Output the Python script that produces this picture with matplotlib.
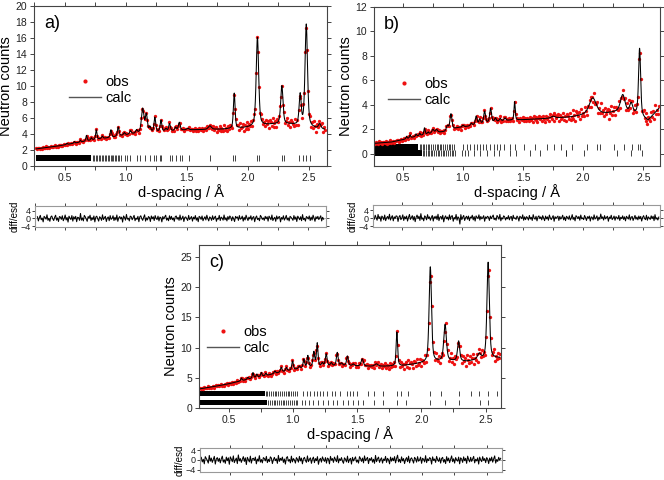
import numpy as np
import matplotlib.pyplot as plt
from matplotlib.lines import Line2D
from matplotlib.ticker import MultipleLocator

plt.rcParams['font.family'] = ['Liberation Sans', 'DejaVu Sans']

# ---- panel a) ----
a_bg_d = [0.25, 0.45, 0.6, 0.75, 0.9, 1.05, 1.3, 1.5, 1.8, 2.0, 2.2, 2.35, 2.55, 2.65]
a_bg_v = [2.1, 2.5, 2.9, 3.3, 3.6, 4.0, 4.3, 4.5, 4.6, 4.8, 5.2, 5.2, 4.7, 4.5]
a_pk_d = [0.52, 0.58, 0.63, 0.68, 0.72, 0.76, 0.81, 0.88, 0.94, 0.99, 1.04, 1.09, 1.14, 1.17,
          1.2, 1.24, 1.29, 1.33, 1.36, 1.41, 1.44, 1.51, 1.69, 1.89, 2.08, 2.28, 2.43, 2.48, 2.59]
a_pk_h = [0.15, 0.2, 0.25, 0.7, 0.3, 1.2, 0.3, 0.95, 1.15, 0.3, 0.4, 0.4, 3.0, 2.2,
          0.6, 1.8, 1.4, 0.3, 0.9, 0.4, 1.0, 0.2, 0.45, 4.4, 11.1, 4.8, 3.8, 12.8, 0.6]
a_pk_w = [0.005, 0.005, 0.005, 0.006, 0.006, 0.006, 0.007, 0.007, 0.008, 0.008, 0.008, 0.008, 0.012, 0.01,
          0.008, 0.008, 0.008, 0.008, 0.008, 0.008, 0.009, 0.01, 0.015, 0.008, 0.012, 0.011, 0.01, 0.012, 0.012]
a_esd_d = [0.25, 1.0, 1.6, 2.0, 2.65]
a_esd_v = [0.07, 0.1, 0.14, 0.35, 0.4]
a_band = [0.27, 0.72]
a_ticks = [0.73, 0.745, 0.755, 0.77, 0.78, 0.79, 0.805, 0.815, 0.83, 0.84, 0.855, 0.865, 0.88, 0.89,
           0.9, 0.915, 0.925, 0.94, 0.95, 0.965, 0.996, 1.01, 1.037, 1.09, 1.118, 1.159, 1.199,
           1.232, 1.253, 1.28, 1.294, 1.362, 1.384, 1.416, 1.449, 1.465, 1.52, 1.69, 1.88, 1.9,
           2.08, 2.09, 2.28, 2.3, 2.42, 2.45, 2.48, 2.51]
diff_a = [0.9,-1.3,0.4,1.6,-0.7,0.2,-1.8,1.1,0.5,-0.4,1.9,-1.0,0.1,-1.5,0.8,1.3,-0.2,-1.1,0.6,1.7,
          -0.9,0.3,-1.6,1.0,0.7,-0.5,1.4,-1.2,0.0,1.8,-0.8,0.5,-1.9,1.2,0.2,-0.6,1.5,-1.4,0.9,-0.3,
          1.1,-1.7,0.6,0.4,-1.0,2.6,-0.9,0.3,-1.3,1.6,0.8,-0.4,-1.5,1.0,0.1,1.7,-1.1,0.5,-0.7,1.3,
          -1.8,0.7,1.2,-0.2,-1.4,0.9,0.3,-1.0,1.9,-0.6,0.4,1.1,-1.6,0.2,0.8,-1.2,1.5,-0.5,0.0,1.4,
          -1.1,0.6,-0.8,1.8,-1.5,0.3,1.0,-0.3,0.7,-1.9,1.3,0.5,-0.9,2.1,-0.4,0.1,-1.3,1.2,0.9,-0.7,
          0.4,1.6,-1.2,0.2,-0.5,1.1,-1.7,0.8,1.4,-0.1,-1.0,0.6,1.9,-1.4,0.3,-0.8,1.0,0.5,-1.6,1.3,
          -0.2,0.9,-1.1,1.5,0.0,-0.6,1.2,-1.3,0.7,0.4,-1.8,1.0,-0.3,0.8,1.7,-0.9,0.2,-1.2,1.4,-0.5,
          1.1,-0.7,0.3,-1.5,0.9,1.3,-0.4,0.6,-1.0,1.8,-0.8,0.1,1.2,-1.6,0.5,0.8,-0.2,-1.1,1.6,-0.6,
          0.2,1.0,-1.4,0.7,-0.3,1.5,-0.9,0.4,-1.7,1.1,0.6,-0.5,1.3,-1.2,0.0,0.9,-0.8,1.7,-0.1,-1.3,
          0.8,0.3,-1.0,1.4,-0.6,0.5,1.2,-1.5,0.1,-0.4,1.6,-1.1,0.7,0.2,-0.9,1.8,-0.7,0.4,-1.3,1.0,
          -0.5,1.3,0.6,-1.2,0.9,-0.2,-1.6,1.1,0.3,0.8,-1.0,1.5,-0.4,0.0,1.2,-1.4,0.6,-0.8,1.7,0.2,
          -1.1,0.7,-0.3,1.4,-0.9,0.5,1.0,-1.7,0.4,1.3,-0.6,0.1,-1.2,1.6,0.8,-0.5,0.3,-1.0,1.1,-0.2,
          0.9,-1.4,1.2,0.4,-0.7,1.8,-1.1,0.0,0.6,-1.5,1.3,-0.3,0.7,1.0,-1.8,0.5,-0.4,1.4,-0.9,0.2,
          1.6,-0.8,0.3,-1.3,1.1,0.6,-0.1,-1.0,1.5,-0.5,0.8,-1.6,1.2,0.4,-0.7,0.9,-1.2,2.0,-0.6,0.1,
          -1.4,1.0,0.5,-0.3,1.3,-1.1,0.7,-0.8,1.7,0.2,-1.5,0.9,-0.2,1.1,-0.6,0.4,1.4,-1.3,0.6,-0.4]

# ---- panel b) ----
b_bg_d = [0.26, 0.4, 0.5, 0.6, 0.7, 0.8, 0.85, 0.95, 1.05, 1.2, 1.35, 1.5, 1.7, 1.9, 2.0,
          2.2, 2.3, 2.45, 2.54, 2.64]
b_bg_v = [0.85, 0.95, 1.15, 1.4, 1.6, 1.75, 1.8, 2.1, 2.25, 2.5, 2.72, 2.78, 2.88, 3.0, 3.15,
          3.3, 3.45, 3.2, 2.7, 3.8]
b_pk_d = [0.53, 0.56, 0.61, 0.64, 0.68, 0.71, 0.75, 0.78, 0.87, 0.9, 1.0, 1.07, 1.11, 1.14,
          1.18, 1.23, 1.27, 1.31, 1.35, 1.43, 1.75, 2.08, 2.33, 2.4, 2.47]
b_pk_h = [0.2, 0.25, 0.2, 0.2, 0.55, 0.15, 0.3, 0.25, 0.4, 1.3, 0.15, 0.2, 0.7, 0.4,
          1.0, 1.15, 0.3, 0.2, 0.2, 1.5, 0.15, 1.35, 1.4, 0.8, 5.5]
b_pk_w = [0.005, 0.005, 0.005, 0.005, 0.006, 0.006, 0.01, 0.01, 0.01, 0.01, 0.008, 0.008, 0.009, 0.008,
          0.009, 0.009, 0.008, 0.008, 0.008, 0.006, 0.02, 0.035, 0.022, 0.015, 0.01]
b_esd_d = [0.25, 1.0, 1.5, 2.0, 2.65]
b_esd_v = [0.07, 0.09, 0.14, 0.32, 0.35]
b_band1 = [0.27, 0.63]
b_ticks1 = [0.64, 0.655, 0.665, 0.68, 0.695, 0.71, 0.72, 0.735, 0.75, 0.765, 0.78, 0.79, 0.805,
            0.82, 0.835, 0.85, 0.865, 0.88, 0.895, 0.91, 0.925, 1.004, 1.032, 1.06, 1.093, 1.116,
            1.138, 1.166, 1.194, 1.221, 1.255, 1.283, 1.31, 1.338, 1.394, 1.43, 1.506, 1.603, 1.7,
            1.756, 1.812, 1.91, 2.03, 2.118, 2.14, 2.258, 2.341, 2.41, 2.453, 2.475]
b_band2 = [0.27, 0.66]
b_ticks2 = [0.67, 0.68, 0.695, 0.705, 0.72, 0.73, 0.745, 0.76, 0.775, 0.79, 0.8, 0.815, 0.83,
            0.845, 0.86, 0.875, 0.89, 0.905, 0.92, 0.93, 0.99, 1.018, 1.038, 1.088, 1.143, 1.199,
            1.255, 1.297, 1.394, 1.44, 1.561, 1.645, 1.854, 1.856, 2.007, 2.286, 2.397, 2.494]
diff_b = [-0.6,1.4,0.2,-1.1,1.8,-0.3,0.7,-1.6,1.0,0.4,-0.9,1.5,-1.3,0.1,0.8,-0.5,1.9,-1.0,0.3,1.2,
          -1.4,0.6,-0.2,1.1,0.9,-1.7,0.5,1.3,-0.8,0.0,1.6,-1.2,0.7,-0.4,1.0,-1.5,0.3,1.8,-0.7,0.2,
          1.2,-1.0,0.8,-1.8,0.4,1.5,-0.3,0.9,-1.2,2.2,-0.6,0.1,-1.4,1.1,0.5,-0.9,1.7,-0.2,0.6,-1.1,
          0.3,1.3,-1.5,0.7,-0.1,1.0,-0.8,1.9,-1.3,0.4,0.8,-0.6,1.4,-1.9,0.2,1.1,-0.4,0.5,-1.0,1.6,
          -0.7,0.9,1.2,-1.6,0.3,-0.5,1.8,-1.1,0.6,0.0,-3.0,1.7,-0.8,0.4,1.3,-1.2,0.2,0.9,-0.6,1.0,
          -1.3,0.5,0.1,1.4,-0.9,0.7,-1.5,1.1,0.3,-0.2,1.6,-1.0,0.8,-0.4,0.2,1.2,-1.6,0.6,-0.1,0.9,
          0.4,-1.2,1.0,-0.3,0.7,1.5,-0.8,0.0,-1.1,1.3,0.5,-0.6,1.8,-1.4,0.2,-0.5,1.1,0.6,-1.0,0.3,
          -0.4,1.2,-0.9,0.5,0.8,-1.3,1.4,-0.2,0.1,-0.7,1.0,0.3,-1.5,0.9,0.4,-0.3,1.6,-1.1,0.6,-0.8,
          0.7,0.2,-1.0,1.3,-0.5,0.4,-1.2,1.7,0.0,-0.6,0.9,-1.4,0.5,1.1,-0.3,0.6,-0.9,1.2,-0.1,-1.3,
          1.0,-0.4,0.6,-1.1,1.5,0.1,-0.8,0.3,1.2,-1.6,0.7,-0.2,0.4,1.0,-1.2,0.8,-0.5,0.2,1.4,-0.9,
          0.5,-1.3,0.9,0.3,-0.6,1.1,-1.0,0.0,1.7,-0.7,0.4,-1.4,1.2,0.6,-0.3,0.8,-1.1,1.5,-0.4,0.1,
          -0.8,1.3,0.2,-1.2,0.7,-0.1,1.0,-1.5,0.6,0.3,-0.9,1.6,-0.5,0.1,1.1,-1.3,0.4,-0.6,2.0,-0.2,
          0.6,-1.0,1.2,-0.4,0.3,0.9,-1.6,0.5,-0.2,1.4,-0.8,0.0,1.0,-1.1,0.7,0.2,-0.5,1.3,-1.2,0.4,
          -0.3,1.1,-0.7,0.6,-1.4,0.9,0.2,-0.5,1.6,-1.0,0.4,0.8,-1.2,0.1,1.3,-0.6,0.5,-0.9,1.0,-0.4,
          0.8,-1.5,0.3,1.2,-0.2,-0.8,1.4,-1.1,0.6,0.0,-0.7,1.1,-0.3,0.9,-1.3,1.7,-0.6,0.2,-1.0,0.5]

# ---- panel c) ----
c_bg_d = [0.27, 0.4, 0.5, 0.6, 0.7, 0.8, 0.9, 1.0, 1.1, 1.2, 1.4, 1.6, 1.7, 1.85, 2.0,
          2.2, 2.35, 2.45, 2.62]
c_bg_v = [3.15, 3.6, 4.0, 4.5, 5.0, 5.4, 5.9, 6.3, 6.7, 6.9, 7.0, 6.9, 6.9, 7.0, 7.4,
          7.8, 7.7, 8.0, 8.3]
c_pk_d = [0.6, 0.65, 0.69, 0.72, 0.755, 0.79, 0.86, 0.91, 0.95, 0.998, 1.05, 1.086, 1.117, 1.164,
          1.19, 1.23, 1.26, 1.3, 1.346, 1.38, 1.425, 1.47, 1.54, 1.65, 1.81, 2.07, 2.185,
          2.29, 2.45, 2.52]
c_pk_h = [0.45, 0.3, 0.9, 0.5, 0.65, 0.4, 0.4, 0.8, 0.6, 1.5, 0.4, 1.4, 1.9, 2.4,
          3.8, 0.5, 2.0, 0.5, 2.2, 0.4, 1.6, 0.3, 1.2, 0.4, 5.6, 15.8, 6.0,
          3.3, 0.9, 16.0]
c_pk_w = [0.006, 0.006, 0.006, 0.006, 0.006, 0.006, 0.007, 0.007, 0.007, 0.007, 0.007, 0.007, 0.007, 0.008,
          0.007, 0.007, 0.008, 0.008, 0.008, 0.008, 0.008, 0.008, 0.01, 0.015, 0.007, 0.011, 0.012,
          0.01, 0.015, 0.011]
c_esd_d = [0.27, 1.0, 1.6, 2.0, 2.62]
c_esd_v = [0.1, 0.17, 0.25, 0.5, 0.65]
c_band1 = [0.27, 0.78]
c_ticks1 = [0.79, 0.8, 0.815, 0.83, 0.845, 0.86, 0.87, 0.885, 0.9, 0.915, 0.93, 0.945, 0.96,
            0.97, 0.985, 1.0, 1.015, 1.03, 1.076, 1.107, 1.133, 1.164, 1.185, 1.211, 1.237, 1.263,
            1.302, 1.328, 1.367, 1.419, 1.445, 1.471, 1.497, 1.589, 1.63, 1.7, 1.81, 1.84, 1.9, 2.07,
            2.154, 2.29, 2.383, 2.448, 2.52, 2.59]
c_band2 = [0.27, 0.8]
c_ticks2 = [0.81, 0.825, 0.84, 0.85, 0.865, 0.88, 0.895, 0.91, 0.92, 0.935, 0.95, 0.965, 0.98,
            0.995, 1.01, 1.025, 1.035, 1.068, 1.094, 1.128, 1.159, 1.198, 1.237, 1.276, 1.31, 1.341,
            1.393, 1.432, 1.471, 1.51, 1.549, 1.633, 1.7, 1.81, 1.88, 2.07, 2.185, 2.29, 2.46, 2.52]
diff_c = [1.1,-0.8,0.3,-1.6,1.4,0.6,-0.2,-1.3,1.9,-0.5,0.8,-1.0,0.2,1.5,-1.7,0.4,1.0,-0.6,0.7,-1.2,
          0.5,1.6,-0.9,0.1,-1.4,1.2,-0.3,0.9,-1.8,1.3,0.4,-0.7,1.7,-1.1,0.0,0.8,-1.5,2.1,-0.4,0.6,
          -1.0,0.3,1.4,-0.6,0.9,-1.9,1.1,0.2,-0.8,1.6,-1.3,0.5,0.7,-0.2,1.2,-1.6,0.4,-0.5,1.8,-0.9,
          0.2,-1.2,1.0,0.6,-0.4,1.5,-1.1,0.3,-0.7,1.3,0.8,-1.5,0.1,1.1,-0.3,0.5,-1.4,1.9,-0.6,0.7,
          -0.1,1.2,-1.0,0.4,-1.7,0.9,1.4,-0.5,0.2,-1.2,1.6,-0.8,0.6,0.0,-1.3,1.0,0.3,-0.9,1.5,-0.4,
          0.8,-1.6,0.5,1.1,-0.2,-1.0,1.7,-0.7,0.3,0.9,-1.4,0.4,1.2,-1.1,0.6,-0.3,1.4,-1.8,0.1,0.7,
          -0.9,1.3,0.2,-0.6,1.0,-1.3,0.8,0.4,-1.6,1.5,-0.1,0.6,-1.0,1.2,0.3,-0.7,1.8,-1.2,0.5,-0.2,
          1.0,-0.5,-1.4,0.9,0.3,-0.8,1.6,-1.1,0.2,0.7,-1.7,1.1,-0.4,0.5,1.3,-0.9,0.0,-1.3,1.4,0.6,
          -0.6,0.8,-1.2,1.7,-0.3,0.4,1.1,-1.5,0.6,-0.1,1.0,-0.9,0.3,-1.4,1.9,-0.7,0.5,1.2,-1.0,0.2,
          0.9,-1.3,0.4,-0.2,1.5,-1.0,0.7,0.1,-1.6,1.2,-0.5,0.8,-0.3,1.4,-1.2,0.6,2.0,-0.8,0.3,-1.1,
          1.3,-0.4,0.6,-1.5,0.2,1.0,-0.7,1.6,-1.2,0.4,0.9,-0.1,-1.3,1.1,0.5,-0.9,1.4,-0.5,0.0,1.2,
          -1.4,0.7,0.3,-0.8,1.8,-1.1,0.5,-0.3,1.0,0.6,-1.7,1.3,-0.2,0.4,-1.0,1.5,0.1,-0.6,0.9,-1.3,
          0.6,1.1,-0.9,0.2,-1.5,1.4,-0.4,0.8,-1.1,0.3,1.7,-0.7,0.5,-1.3,1.0,0.0,-0.5,1.2,-1.6,0.9,
          0.4,-1.0,1.3,-0.3,0.7,-1.4,1.6,0.2,-0.8,1.1,-0.6,0.5,1.5,-1.2,0.3,-0.4,0.9,-1.7,1.2,0.1,
          -0.7,1.4,-0.2,0.6,-1.1,1.0,0.3,-1.5,0.8,-0.4,1.2,-0.9,0.5,1.7,-1.3,0.2,-0.6,1.1,-0.1,0.7]


def profile(d, bg_d, bg_v, pk_d, pk_h, pk_w):
    y = np.interp(d, bg_d, bg_v)
    for p, h, w in zip(pk_d, pk_h, pk_w):
        x = (d - p) / w
        y = y + h * (0.5 / (1 + x**2) + 0.5 * np.exp(-np.log(2) * x**2))
    return y


def style_axes(ax, color='#444'):
    for s in ax.spines.values():
        s.set_color(color)
        s.set_linewidth(0.8)
    ax.tick_params(which='both', direction='out', length=3, width=0.7, colors='#444',
                   labelcolor='#222', top=True, right=True)


def draw_panel(ax, axd, xlim, ylim, ymaj, span, bg, pk, esd, diff, rows, tag, leg_xy, diff_lim):
    d_calc = np.linspace(span[0], span[1], 3000)
    d_obs = np.linspace(span[0], span[1], len(diff))
    calc = profile(d_calc, *bg, *pk)
    obs = profile(d_obs, *bg, *pk) + np.array(diff) * np.interp(d_obs, *esd)

    ax.plot(d_obs, obs, ls='none', marker='o', ms=2.4, color='#ee1111', mew=0)
    ax.plot(d_calc, calc, color='black', lw=0.75)
    for y0, y1, band, ticks in rows:
        ax.fill_between(band, y0, y1, color='black', lw=0)
        ax.vlines(ticks, y0, y1, color='#222', lw=0.6)

    ax.set_xlim(*xlim)
    ax.set_ylim(*ylim)
    ax.xaxis.set_major_locator(MultipleLocator(0.5))
    ax.xaxis.set_minor_locator(MultipleLocator(0.25))
    ax.yaxis.set_major_locator(MultipleLocator(ymaj))
    style_axes(ax)
    ax.tick_params(labelsize=7.5, pad=2)
    ax.tick_params(which='minor', length=3)
    ax.set_xlabel('d-spacing / Å', fontsize=10.5, labelpad=1)
    ax.set_ylabel('Neutron counts', fontsize=10.5, labelpad=2)
    ax.text(0.035, 0.89, tag, transform=ax.transAxes, fontsize=13, va='center', ha='left')

    handles = [Line2D([], [], ls='none', marker='o', ms=3, color='#ee1111', mew=0),
               Line2D([], [], color='#555', lw=1.0)]
    ax.legend(handles, ['obs', 'calc'], loc='upper left', bbox_to_anchor=leg_xy,
              frameon=False, fontsize=10.5, handlelength=2.2, handletextpad=0.3,
              labelspacing=0.15, borderpad=0, borderaxespad=0)

    axd.plot(d_obs, diff, color='black', lw=0.75)
    axd.axhline(0, color='#999', lw=0.5, zorder=0)
    axd.set_xlim(*xlim)
    axd.set_ylim(*diff_lim)
    axd.set_yticks([-4, 0, 4])
    axd.xaxis.set_major_locator(MultipleLocator(0.5))
    axd.xaxis.set_minor_locator(MultipleLocator(0.25))
    style_axes(axd, '#999')
    axd.tick_params(which='both', length=2, labelsize=6.5, pad=1, labelbottom=False)
    axd.set_ylabel('diff/esd', fontsize=7, labelpad=1)


fig = plt.figure(figsize=(6.64, 4.8), dpi=100)
ax_a = fig.add_axes([0.0512, 0.6542, 0.4413, 0.3333])
ax_ad = fig.add_axes([0.0527, 0.527, 0.4383, 0.0438])
ax_b = fig.add_axes([0.5633, 0.6542, 0.4307, 0.3313])
ax_bd = fig.add_axes([0.5618, 0.527, 0.4322, 0.0458])
ax_c = fig.add_axes([0.2997, 0.15, 0.4548, 0.3396])
ax_cd = fig.add_axes([0.3012, 0.0167, 0.4548, 0.05])

draw_panel(ax_a, ax_ad, (0.25, 2.65), (0, 20), 2, (0.27, 2.63),
           (a_bg_d, a_bg_v), (a_pk_d, a_pk_h, a_pk_w), (a_esd_d, a_esd_v), diff_a,
           [(0.6, 1.4, a_band, a_ticks)], 'a)', (0.12, 0.57), (-4.5, 6.5))
draw_panel(ax_b, ax_bd, (0.26, 2.64), (-1, 12), 2, (0.27, 2.63),
           (b_bg_d, b_bg_v), (b_pk_d, b_pk_h, b_pk_w), (b_esd_d, b_esd_v), diff_b,
           [(0.33, 0.77, b_band1, b_ticks1), (-0.22, 0.27, b_band2, b_ticks2)],
           'b)', (0.05, 0.56), (-4.5, 6.5))
draw_panel(ax_c, ax_cd, (0.27, 2.62), (0, 27), 5, (0.28, 2.61),
           (c_bg_d, c_bg_v), (c_pk_d, c_pk_h, c_pk_w), (c_esd_d, c_esd_v), diff_c,
           [(2.0, 2.8, c_band1, c_ticks1), (0.55, 1.4, c_band2, c_ticks2)],
           'c)', (0.027, 0.51), (-5, 5))

fig.savefig('out.png', dpi=100)
